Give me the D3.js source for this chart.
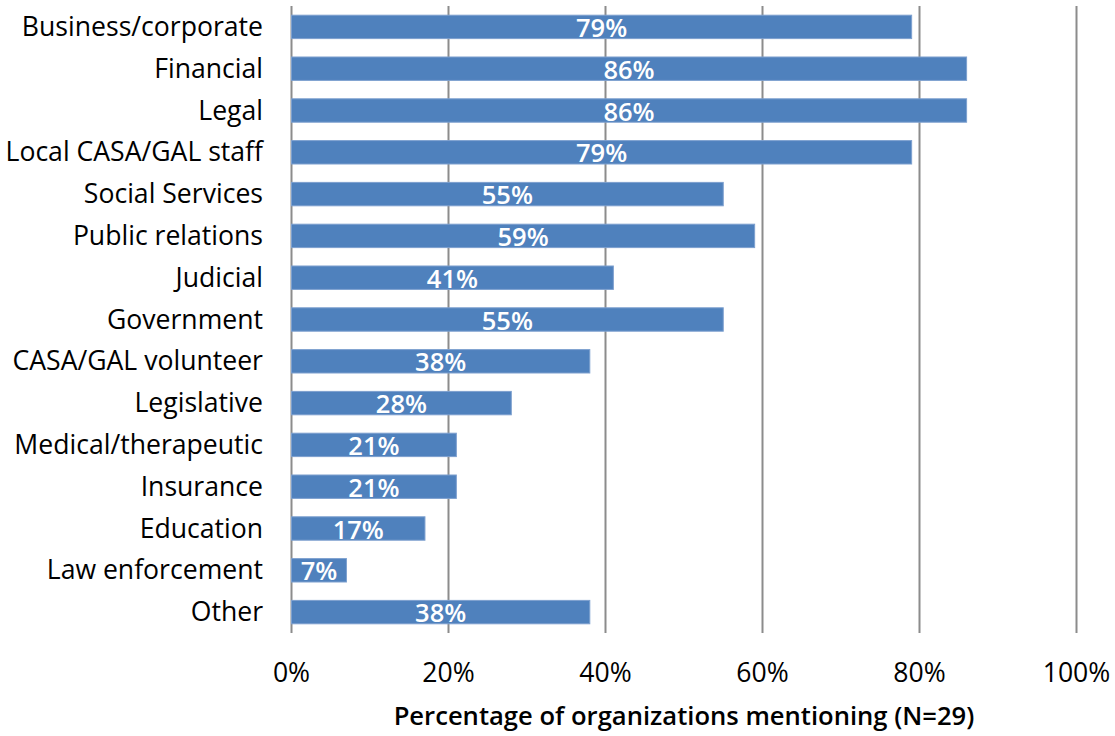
<!DOCTYPE html>
<html>
<head>
<meta charset="utf-8">
<script src="https://cdn.jsdelivr.net/npm/d3@7"></script>
<style>
  html, body { margin: 0; padding: 0; background: #fff; }
  svg { display: block; }
  text { font-family: "Open Sans", sans-serif; }
</style>
</head>
<body>
<svg id="chart" width="1115" height="736"></svg>
<script>
// Areas of expertise mentioned by organizations
const categories = [
  "Business/corporate", "Financial", "Legal", "Local CASA/GAL staff",
  "Social Services", "Public relations", "Judicial", "Government",
  "CASA/GAL volunteer", "Legislative", "Medical/therapeutic", "Insurance",
  "Education", "Law enforcement", "Other"
];
const percents = [79, 86, 86, 79, 55, 59, 41, 55, 38, 28, 21, 21, 17, 7, 38];
const tickValues = [0, 20, 40, 60, 80, 100];
const axisTitle = "Percentage of organizations mentioning (N=29)";

const svg = d3.select("#chart");
const plotLeft = 291.5, plotRight = 1076.5, plotTop = 6, plotBottom = 633;

const x = d3.scaleLinear().domain([0, 100]).range([plotLeft, plotRight]);
const y = d3.scaleBand().domain(categories).range([plotTop, plotBottom])
  .paddingInner(0.44).paddingOuter(0.22);

// vertical gridlines
svg.append("g").selectAll("line").data(tickValues).join("line")
  .attr("x1", d => x(d)).attr("x2", d => x(d))
  .attr("y1", plotTop).attr("y2", plotBottom)
  .attr("stroke", "#8c8c8c").attr("stroke-width", 2);

// bars
svg.append("g").selectAll("rect").data(categories).join("rect")
  .attr("x", x(0))
  .attr("y", d => y(d))
  .attr("width", (d, i) => x(percents[i]) - x(0))
  .attr("height", y.bandwidth())
  .attr("fill", "#4f81bd")
  .attr("stroke", "#7da0cf").attr("stroke-width", 1);

// value labels inside bars
svg.append("g").selectAll("text").data(categories).join("text")
  .attr("x", (d, i) => (x(0) + x(percents[i])) / 2)
  .attr("y", d => y(d) + y.bandwidth() / 2 + 10)
  .attr("text-anchor", "middle")
  .attr("fill", "#fff")
  .attr("font-size", 25.5)
  .attr("font-weight", 600)
  .text((d, i) => percents[i] + "%");

// category labels
svg.append("g").selectAll("text").data(categories).join("text")
  .attr("x", 263)
  .attr("y", d => y(d) + y.bandwidth() / 2 + 9)
  .attr("text-anchor", "end")
  .attr("fill", "#000")
  .attr("font-size", 26.6)
  .text(d => d);

// x tick labels
svg.append("g").selectAll("text").data(tickValues).join("text")
  .attr("x", d => x(d))
  .attr("y", 682)
  .attr("text-anchor", "middle")
  .attr("fill", "#000")
  .attr("font-size", 26.6)
  .text(d => d + "%");

// axis title
svg.append("text")
  .attr("x", (plotLeft + plotRight) / 2)
  .attr("y", 725)
  .attr("text-anchor", "middle")
  .attr("fill", "#000")
  .attr("font-size", 25.6)
  .attr("font-weight", 600)
  .text(axisTitle);
</script>
</body>
</html>
